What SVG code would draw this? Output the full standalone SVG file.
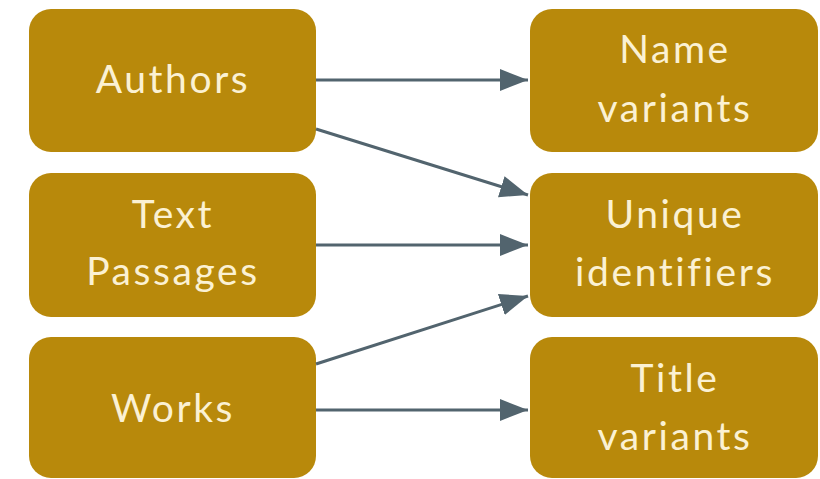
<svg xmlns="http://www.w3.org/2000/svg" width="820" height="479" viewBox="0 0 820 479">
<style>
.box{fill:#B8890B;}
.lbl{font-family:Lato,"Noto Sans","Liberation Sans",sans-serif;font-size:39px;letter-spacing:2.6px;fill:#FBF1D3;text-anchor:middle;}
.edge{stroke:#52646E;stroke-width:3;fill:none;marker-end:url(#ah);}
</style>
<defs>
<marker id="ah" markerUnits="userSpaceOnUse" markerWidth="30" markerHeight="24" refX="28" refY="11" orient="auto">
<path d="M0,0 L28,11 L0,22 Z" fill="#52646E"/>
</marker>
</defs>
<rect width="820" height="479" fill="#FFFFFF"/>
<g id="authors"><rect class="box" x="29" y="9" width="287" height="143" rx="22"/><text class="lbl" x="173" y="93">Authors</text></g>
<g id="passages"><rect class="box" x="29" y="173" width="287" height="144" rx="22"/><text class="lbl" x="173" y="228">Text</text><text class="lbl" x="173" y="285">Passages</text></g>
<g id="works"><rect class="box" x="29" y="337" width="287" height="141" rx="22"/><text class="lbl" x="173" y="422">Works</text></g>
<g id="names"><rect class="box" x="530" y="9" width="288" height="143" rx="22"/><text class="lbl" x="675" y="63">Name</text><text class="lbl" x="675" y="122">variants</text></g>
<g id="ids"><rect class="box" x="530" y="173" width="288" height="144" rx="22"/><text class="lbl" x="675" y="228">Unique</text><text class="lbl" x="675" y="286">identifiers</text></g>
<g id="titles"><rect class="box" x="530" y="337" width="288" height="141" rx="22"/><text class="lbl" x="675" y="392">Title</text><text class="lbl" x="675" y="450">variants</text></g>
<g id="connectors">
<line class="edge" x1="316" y1="80" x2="528" y2="80"/>
<line class="edge" x1="316" y1="129" x2="528" y2="195"/>
<line class="edge" x1="316" y1="245" x2="528" y2="245"/>
<line class="edge" x1="316" y1="364" x2="528" y2="296"/>
<line class="edge" x1="316" y1="410" x2="528" y2="410"/>
</g>
</svg>
